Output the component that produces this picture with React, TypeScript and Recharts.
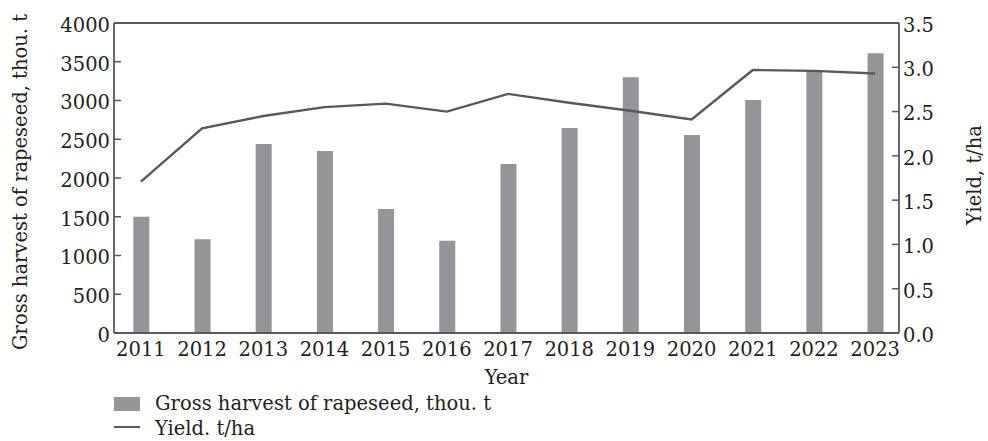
import React from 'react';
import {
  ComposedChart,
  Bar,
  Line,
  XAxis,
  YAxis,
  Legend,
  ReferenceLine,
} from 'recharts';

const years = [2011, 2012, 2013, 2014, 2015, 2016, 2017, 2018, 2019, 2020, 2021, 2022, 2023];
const harvest = [1500, 1210, 2440, 2350, 1600, 1190, 2180, 2645, 3300, 2555, 3005, 3390, 3610];
const yieldTha = [1.71, 2.31, 2.45, 2.55, 2.59, 2.5, 2.7, 2.6, 2.51, 2.41, 2.97, 2.96, 2.93];

const leftTicks = [0, 500, 1000, 1500, 2000, 2500, 3000, 3500, 4000];
const rightTicks = [0, 0.5, 1, 1.5, 2, 2.5, 3, 3.5];

const harvestName = 'Gross harvest of rapeseed, thou. t';
const yieldName = 'Yield. t/ha';

const data = years.map((year, i) => ({ year, harvest: harvest[i], yield: yieldTha[i] }));

const FONT = '"DejaVu Serif", serif';
const TEXT = '#231f20';
const AXIS = '#58595b';
const BAR = '#939598';
const LINE = '#58595b';
const FS = 19.5;
const GAP = 4;
const TICK_LEN = 7;

const LeftTick = (props: any) => {
  const { x, y, payload } = props;
  const ax = x + GAP;
  return (
    <g>
      <line x1={ax} x2={ax + TICK_LEN} y1={y} y2={y} stroke={AXIS} strokeWidth={1.5} />
      <text x={x} y={y} dy={FS * 0.355 + 2} textAnchor="end" fill={TEXT} fontFamily={FONT} fontSize={FS}>
        {payload.value}
      </text>
    </g>
  );
};

const RightTick = (props: any) => {
  const { x, y, payload } = props;
  const ax = x - GAP;
  return (
    <g>
      <line x1={ax} x2={ax - TICK_LEN} y1={y} y2={y} stroke={AXIS} strokeWidth={1.5} />
      <text x={x} y={y} dy={FS * 0.355 + 2} textAnchor="start" fill={TEXT} fontFamily={FONT} fontSize={FS}>
        {Number(payload.value).toFixed(1)}
      </text>
    </g>
  );
};

const LeftTitle = (props: any) => {
  const vb = props.viewBox;
  const cx = 20;
  const cy = vb.y + vb.height / 2 + 4;
  return (
    <text
      x={cx}
      y={cy}
      transform={`rotate(-90, ${cx}, ${cy})`}
      textAnchor="middle"
      dominantBaseline="central"
      fill={TEXT}
      fontFamily={FONT}
      fontSize={FS}
    >
      {harvestName}
    </text>
  );
};

const RightTitle = (props: any) => {
  const vb = props.viewBox;
  const cx = 974;
  const cy = vb.y + vb.height / 2 - 3;
  return (
    <text
      x={cx}
      y={cy}
      transform={`rotate(-90, ${cx}, ${cy})`}
      textAnchor="middle"
      dominantBaseline="central"
      fill={TEXT}
      fontFamily={FONT}
      fontSize={FS}
    >
      Yield, t/ha
    </text>
  );
};

const LegendBox = () => (
  <div style={{ position: 'relative', height: 50, width: 420, fontFamily: FONT, fontSize: FS, color: TEXT }}>
    <div style={{ position: 'absolute', left: 0, top: 6, width: 26, height: 14, background: BAR }} />
    <div style={{ position: 'absolute', left: 41, top: 0, lineHeight: '25px', whiteSpace: 'nowrap' }}>{harvestName}</div>
    <div style={{ position: 'absolute', left: 0, top: 35, width: 26, height: 2, background: LINE }} />
    <div style={{ position: 'absolute', left: 41, top: 25, lineHeight: '25px', whiteSpace: 'nowrap' }}>{yieldName}</div>
  </div>
);

export default function App() {
  return (
    <div style={{ position: 'absolute', left: 0, top: 0, width: 988, height: 441, background: '#fff' }}>
      <ComposedChart width={988} height={441} data={data} margin={{ top: 23, right: 0, bottom: 0, left: 0 }}>
        <XAxis
          dataKey="year"
          type="number"
          domain={[2010.56, 2023.39]}
          ticks={years}
          allowDataOverflow
          tickLine={false}
          tickSize={7}
          tickMargin={2}
          height={58}
          axisLine={{ stroke: AXIS, strokeWidth: 1.8 }}
          tick={{ fill: TEXT, fontFamily: FONT, fontSize: FS }}
          label={{ value: 'Year', position: 'insideBottom', offset: 7, fill: TEXT, fontFamily: FONT, fontSize: FS }}
        />
        <YAxis
          yAxisId="left"
          orientation="left"
          width={114}
          domain={[0, 4000]}
          ticks={leftTicks}
          tickLine={false}
          tickSize={0}
          tickMargin={GAP}
          axisLine={{ stroke: AXIS, strokeWidth: 1.8 }}
          tick={<LeftTick />}
          label={{ content: <LeftTitle /> }}
        />
        <YAxis
          yAxisId="right"
          orientation="right"
          width={89}
          domain={[0, 3.5]}
          ticks={rightTicks}
          tickLine={false}
          tickSize={0}
          tickMargin={GAP}
          axisLine={{ stroke: AXIS, strokeWidth: 1.8 }}
          tick={<RightTick />}
          label={{ content: <RightTitle /> }}
        />
        <ReferenceLine yAxisId="left" y={4000} stroke={AXIS} strokeWidth={1.8} />
        <Bar yAxisId="left" dataKey="harvest" name={harvestName} fill={BAR} barSize={16} isAnimationActive={false} />
        <Line
          yAxisId="right"
          dataKey="yield"
          name={yieldName}
          stroke={LINE}
          strokeWidth={2.4}
          dot={false}
          type="linear"
          isAnimationActive={false}
        />
        <Legend
          verticalAlign="bottom"
          align="left"
          content={<LegendBox />}
          wrapperStyle={{ left: 114, bottom: 0, width: 420, height: 50 }}
        />
      </ComposedChart>
    </div>
  );
}
